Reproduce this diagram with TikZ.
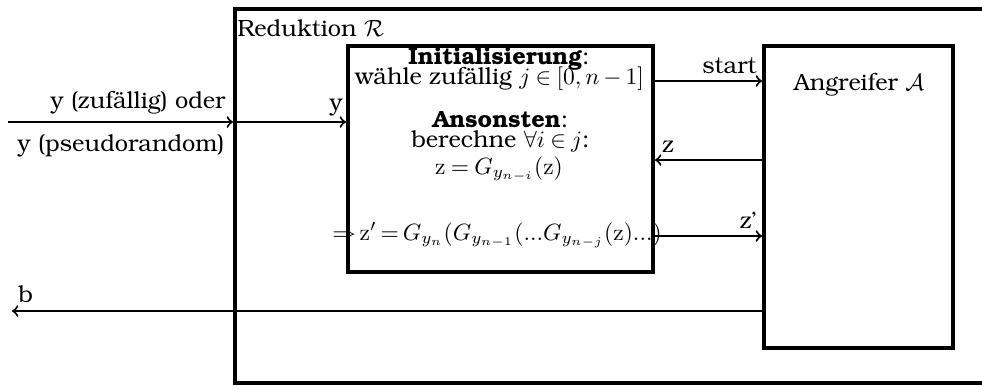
\documentclass[tikz,border=0pt]{standalone}
\usepackage[T1]{fontenc}
\usepackage{bookman}
\usepackage{amsmath,amssymb}
\usetikzlibrary{calc}
\newcommand\uu{0.425}
\newcommand\zz{\mathrm{z}}
\newcommand\tdots{{.}{.}{.}}
\tikzset{
  blockbox/.style={draw,line width=\uu*4pt,inner sep=0pt},
  conn/.style={->,line width=\uu*2pt},
  txt/.style={inner sep=0pt,anchor=base},
}
\begin{document}
\begin{tikzpicture}[x=\uu pt,y=-\uu pt,font=\normalsize]
\useasboundingbox (0,0) rectangle (982,388);
% boxes
\node[blockbox,minimum width=\uu*760pt,minimum height=\uu*374pt] (R) at (615,196) {};
\node[blockbox,minimum width=\uu*305pt,minimum height=\uu*226pt] (C) at (500.5,159) {};
\node[blockbox,minimum width=\uu*189pt,minimum height=\uu*302pt] (A) at (858.5,197) {};
\node[txt,anchor=base west] (Rl) at (237,36) {Reduktion $\mathcal{R}$};
\node[txt] (Al) at (859,90) {Angreifer $\mathcal{A}$};
% inner text
\node[txt] (init1) at (499,64) {\textbf{Initialisierung}:};
\node[txt] (init2) at (499.5,84.5) {wähle zufällig $\medmuskip=3mu\thickmuskip=4mu j\in[0,n-1]$};
\node[txt] (sonst1) at (500.5,127) {\textbf{Ansonsten}:};
\node[txt] (sonst2) at (500.5,147) {berechne $\thickmuskip=4mu\forall i\in j$:};
\node[txt] (zeq) at (499,174) {$\thickmuskip=4mu \zz=G_{y_{n-i}}(\zz)$};
\node[txt] (zp) at (497,240) {$\thickmuskip=3mu \Rightarrow \zz'=G_{y_n}(G_{y_{n-1}}(\tdots G_{y_{n-j}}(\zz)\tdots)$};
% coordinates
\coordinate (in0) at (8,122);
\coordinate (rin) at (R.west |- in0);
\coordinate (s) at (700,81);
\coordinate (zc) at (700,160);
\coordinate (zq) at (700,236);
\coordinate (bb) at (700,311);
\coordinate (bout) at (12,311);
% connectors
\draw[conn] (in0) -- (rin);
\draw[conn] (rin) -- (C.west |- in0);
\draw[conn] (C.east |- s) -- (A.west |- s);
\draw[conn] (A.west |- zc) -- (C.east |- zc);
\draw[conn] (C.east |- zq) -- (A.west |- zq);
\draw[conn] (A.west |- bb) -- (bout);
% labels
\node[txt,anchor=base east] at (226,108) {y (zufällig) oder};
\node[txt,anchor=base east] at (225,151) {y (pseudorandom)};
\node[txt,anchor=base east] at (343,110) {y};
\node[txt,anchor=base east] at (757,73) {start};
\node[txt,anchor=base west] at (662,152) {z};
\node[txt,anchor=base east] at (757,228) {z'};
\node[txt,anchor=base west] at (18,302) {b};
\end{tikzpicture}
\end{document}
